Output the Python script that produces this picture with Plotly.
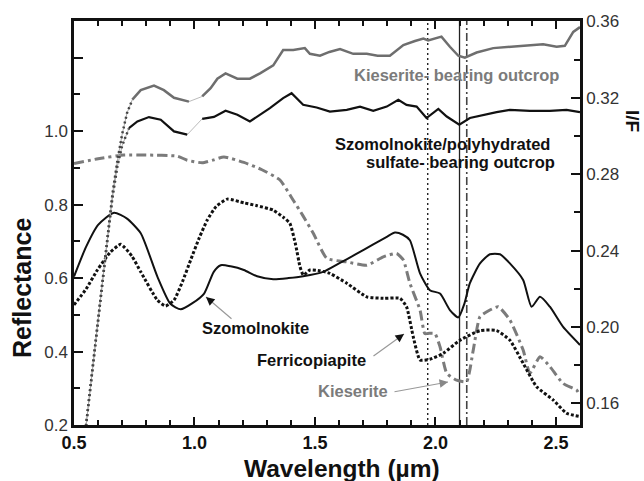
import plotly.graph_objects as go

# ---------------- data ----------------
# Laboratory spectra (left axis: Reflectance)
wl_szomolnokite = [0.50, 0.55, 0.60, 0.666, 0.72, 0.777, 0.846, 0.90, 0.943, 0.99, 1.04, 1.08, 1.109, 1.15,
                   1.205, 1.26, 1.327, 1.39, 1.451, 1.534, 1.60, 1.67, 1.742, 1.80, 1.832, 1.865, 1.894,
                   1.936, 1.977, 2.019, 2.06, 2.095, 2.12, 2.143, 2.185, 2.226, 2.268, 2.309, 2.364,
                   2.399, 2.434, 2.475, 2.53, 2.60]
refl_szomolnokite = [0.604, 0.685, 0.745, 0.778, 0.762, 0.722, 0.604, 0.530, 0.515, 0.531, 0.558, 0.617,
                     0.635, 0.632, 0.622, 0.605, 0.597, 0.600, 0.605, 0.617, 0.640, 0.665, 0.692, 0.713,
                     0.724, 0.718, 0.703, 0.613, 0.567, 0.558, 0.513, 0.493, 0.530, 0.586, 0.640, 0.665,
                     0.665, 0.640, 0.595, 0.522, 0.549, 0.522, 0.467, 0.418]

wl_ferricopiapite = [0.50, 0.55, 0.597, 0.65, 0.694, 0.74, 0.777, 0.846, 0.88, 0.915, 0.95, 0.984, 1.02,
                     1.053, 1.09, 1.136, 1.205, 1.26, 1.327, 1.37, 1.396, 1.42, 1.438, 1.452, 1.479, 1.52,
                     1.562, 1.632, 1.715, 1.784, 1.853, 1.88, 1.908, 1.936, 1.977, 2.032, 2.102, 2.185,
                     2.254, 2.309, 2.364, 2.42, 2.489, 2.544, 2.60]
refl_ferricopiapite = [0.527, 0.570, 0.622, 0.670, 0.692, 0.660, 0.617, 0.540, 0.524, 0.540, 0.590, 0.649,
                       0.710, 0.758, 0.795, 0.815, 0.805, 0.797, 0.785, 0.765, 0.749, 0.690, 0.631, 0.608,
                       0.622, 0.620, 0.613, 0.586, 0.549, 0.545, 0.545, 0.522, 0.440, 0.377, 0.379, 0.395,
                       0.431, 0.457, 0.457, 0.431, 0.368, 0.304, 0.268, 0.232, 0.223]

wl_kieserite = [0.50, 0.60, 0.707, 0.80, 0.929, 0.97, 1.032, 1.08, 1.122, 1.205, 1.28, 1.355, 1.41, 1.45,
                1.493, 1.549, 1.632, 1.715, 1.784, 1.839, 1.867, 1.894, 1.936, 1.956, 1.975, 1.998, 2.019,
                2.047, 2.088, 2.129, 2.157, 2.185, 2.226, 2.261, 2.309, 2.364, 2.392, 2.434, 2.475, 2.53,
                2.586, 2.60]
refl_kieserite = [0.912, 0.925, 0.935, 0.935, 0.932, 0.921, 0.914, 0.922, 0.930, 0.915, 0.895, 0.867, 0.812,
                  0.770, 0.722, 0.654, 0.644, 0.635, 0.658, 0.667, 0.649, 0.586, 0.513, 0.449, 0.450, 0.449,
                  0.413, 0.341, 0.322, 0.318, 0.404, 0.495, 0.513, 0.522, 0.486, 0.404, 0.341, 0.386, 0.359,
                  0.313, 0.295, 0.280]

# CRISM outcrop spectra (right axis: I/F)
wl_kies_out_vis = [0.545, 0.56, 0.58, 0.60, 0.62, 0.64, 0.66, 0.68, 0.70, 0.72, 0.742]
if_kies_out_vis = [0.143, 0.160, 0.182, 0.203, 0.225, 0.247, 0.270, 0.287, 0.301, 0.312, 0.319]
wl_kies_out_a = [0.742, 0.777, 0.832, 0.873, 0.915, 0.977]
if_kies_out_a = [0.319, 0.324, 0.3264, 0.324, 0.320, 0.318]
wl_kies_out_b = [1.032, 1.067, 1.095, 1.129, 1.178, 1.23, 1.272, 1.327, 1.368, 1.41, 1.458, 1.479, 1.521,
                 1.56, 1.604, 1.659, 1.715, 1.76, 1.811, 1.867, 1.915, 1.95, 1.97, 2.025, 2.06, 2.095,
                 2.122, 2.171, 2.24, 2.309, 2.378, 2.447, 2.503, 2.537, 2.572, 2.60]
if_kies_out_b = [0.3207, 0.325, 0.330, 0.3328, 0.330, 0.330, 0.3328, 0.337, 0.345, 0.345, 0.346, 0.343,
                 0.342, 0.344, 0.3455, 0.343, 0.343, 0.342, 0.342, 0.3476, 0.3497, 0.351, 0.350, 0.352,
                 0.3467, 0.342, 0.341, 0.3437, 0.346, 0.3467, 0.3472, 0.348, 0.3467, 0.3472, 0.3545, 0.357]

wl_szo_out_vis = [0.545, 0.56, 0.58, 0.60, 0.62, 0.64, 0.66, 0.68, 0.70, 0.728]
if_szo_out_vis = [0.143, 0.160, 0.182, 0.203, 0.225, 0.247, 0.268, 0.284, 0.295, 0.304]
wl_szo_out_a = [0.728, 0.763, 0.811, 0.86, 0.915, 0.97]
if_szo_out_a = [0.3041, 0.3076, 0.3099, 0.3085, 0.3024, 0.3007]
wl_szo_out_b = [1.032, 1.081, 1.129, 1.178, 1.23, 1.272, 1.313, 1.368, 1.403, 1.451, 1.507, 1.562, 1.632,
                1.687, 1.742, 1.798, 1.846, 1.88, 1.922, 1.963, 2.012, 2.047, 2.099, 2.143, 2.199, 2.254,
                2.309, 2.392, 2.475, 2.544, 2.60]
if_szo_out_b = [0.309, 0.310, 0.3132, 0.3111, 0.3076, 0.3111, 0.3146, 0.3198, 0.3224, 0.3163, 0.3149,
                0.3128, 0.3137, 0.3154, 0.3132, 0.3154, 0.3189, 0.3163, 0.3154, 0.3094, 0.3142, 0.3102,
                0.3059, 0.3094, 0.3111, 0.3125, 0.3137, 0.3132, 0.3132, 0.3137, 0.3125]

band_positions = [1.968, 2.10, 2.13]

x_ticks = [0.5, 1.0, 1.5, 2.0, 2.5]
x_ticktext = ["0.5", "1.0", "1.5", "2.0", "2.5"]
y_ticks = [0.2, 0.4, 0.6, 0.8, 1.0, 1.2]
y_ticktext = ["0.2", "0.4", "0.6", "0.8", "1.0", ""]
y2_ticks = [0.16, 0.20, 0.24, 0.28, 0.32, 0.36]
y2_ticktext = ["0.16", "0.20", "0.24", "0.28", "0.32", "0.36"]

# ---------------- styling / layout ----------------
W, H = 644, 481
L, R, T, B = 74, 64, 21, 56
PW = W - L - R
PH = H - T - B
FONT = "Arial, 'Liberation Sans', sans-serif"
GRAY = "#7b7b7b"
LBL = 16.5


def px(xp):
    return (xp - L) / PW


def py(yp):
    return (H - B - yp) / PH


fig = go.Figure()

# lab spectra
fig.add_trace(go.Scatter(x=wl_kieserite, y=refl_kieserite, mode="lines",
                         line=dict(color=GRAY, width=3, dash="10px,4px,3px,4px", shape="spline", smoothing=0.5)))
fig.add_trace(go.Scatter(x=wl_ferricopiapite, y=refl_ferricopiapite, mode="lines",
                         line=dict(color="#111", width=3, dash="3px,2px", shape="spline", smoothing=0.5)))
fig.add_trace(go.Scatter(x=wl_szomolnokite, y=refl_szomolnokite, mode="lines",
                         line=dict(color="#111", width=2, shape="spline", smoothing=0.6)))

# outcrop spectra on right axis
for wv, iv in [(wl_kies_out_vis, if_kies_out_vis), (wl_szo_out_vis, if_szo_out_vis)]:
    fig.add_trace(go.Scatter(x=wv, y=iv, yaxis="y2", mode="lines",
                             line=dict(color="#aaa", width=1)))
    fig.add_trace(go.Scatter(x=wv, y=iv, yaxis="y2", mode="lines",
                             line=dict(color="#444", width=2.5, dash="2px,3px")))
# thin connectors across the gap
fig.add_trace(go.Scatter(x=[wl_kies_out_a[-1], wl_kies_out_b[0]], y=[if_kies_out_a[-1], if_kies_out_b[0]],
                         yaxis="y2", mode="lines", line=dict(color="#bbb", width=1)))
fig.add_trace(go.Scatter(x=[wl_szo_out_a[-1], wl_szo_out_b[0]], y=[if_szo_out_a[-1], if_szo_out_b[0]],
                         yaxis="y2", mode="lines", line=dict(color="#bbb", width=1)))
for wv, iv in [(wl_kies_out_a, if_kies_out_a), (wl_kies_out_b, if_kies_out_b)]:
    fig.add_trace(go.Scatter(x=wv, y=iv, yaxis="y2", mode="lines",
                             line=dict(color="#6e6e6e", width=2.5)))
for wv, iv in [(wl_szo_out_a, if_szo_out_a), (wl_szo_out_b, if_szo_out_b)]:
    fig.add_trace(go.Scatter(x=wv, y=iv, yaxis="y2", mode="lines",
                             line=dict(color="#111", width=2.2)))

# band position lines
band_styles = [dict(color="#222", width=1.4, dash="2px,3px"),
               dict(color="#222", width=1.3),
               dict(color="#444", width=1.6, dash="8px,3px,2px,3px")]
for bx, st in zip(band_positions, band_styles):
    fig.add_shape(type="line", xref="x", yref="paper", x0=bx, x1=bx, y0=0, y1=1,
                  line=st, layer="below")

tick_common = dict(ticks="inside", showline=True, linecolor="#111", linewidth=2.5,
                   tickcolor="#111", tickwidth=2, showgrid=False, zeroline=False)

fig.update_layout(
    width=W, height=H, margin=dict(l=L, r=R, t=T, b=B),
    paper_bgcolor="white", plot_bgcolor="white", showlegend=False,
    font=dict(family=FONT, color="#111"),
    xaxis=dict(range=[0.5, 2.6], tickmode="array", tickvals=x_ticks,
               ticktext=x_ticktext, ticklen=8,
               tickfont=dict(size=18, weight="bold", color="#111"),
               minor=dict(tickmode="linear", tick0=0.5, dtick=0.1, ticks="inside", ticklen=5,
                          tickwidth=2, tickcolor="#111"),
               **tick_common),
    xaxis2=dict(range=[0.5, 2.6], overlaying="x", side="top", anchor="y",
                tickmode="array", tickvals=x_ticks, showticklabels=False, ticklen=8,
                minor=dict(tickmode="linear", tick0=0.5, dtick=0.1, ticks="inside", ticklen=5,
                           tickwidth=2, tickcolor="#111"),
                **tick_common),
    yaxis=dict(range=[0.2, 1.3], tickmode="array", tickvals=y_ticks, ticktext=y_ticktext,
               ticklen=9, tickfont=dict(size=17, color="#333"),
               minor=dict(tickmode="linear", tick0=0.2, dtick=0.1, ticks="inside", ticklen=6,
                          tickwidth=2, tickcolor="#111"),
               **tick_common),
    yaxis2=dict(range=[0.1487, 0.3602], overlaying="y", side="right", anchor="x",
                tickmode="array", tickvals=y2_ticks, ticktext=y2_ticktext,
                ticklen=9, tickfont=dict(size=17, color="#333"),
                minor=dict(tickmode="linear", tick0=0.16, dtick=0.02, ticks="inside", ticklen=6,
                           tickwidth=2, tickcolor="#111"),
                **tick_common),
)

# dummy trace to activate xaxis2
fig.add_trace(go.Scatter(x=[None], y=[None], xaxis="x2", showlegend=False))

ann = []
# axis titles
ann.append(dict(text="<b>Reflectance</b>", x=px(22), y=py(288), textangle=-90,
                font=dict(size=25, color="#111")))
ann.append(dict(text="<b>Wavelength (µm)</b>", x=px(342), y=py(468),
                font=dict(size=24.5, color="#111")))
ann.append(dict(text="<b>I/F</b>", x=px(633), y=py(121), textangle=90,
                font=dict(size=19, color="#111")))
# curve labels
ann.append(dict(text="<b>Kieserite- bearing outcrop</b>", x=px(456), y=py(75),
                font=dict(size=LBL, color=GRAY)))
ann.append(dict(text="<b>Szomolnokite/polyhydrated</b>", x=px(442), y=py(144),
                font=dict(size=LBL, color="#111")))
ann.append(dict(text="<b>sulfate- bearing outcrop</b>", x=px(460), y=py(162),
                font=dict(size=LBL, color="#111")))
ann.append(dict(text="<b>Szomolnokite</b>", x=px(255), y=py(328),
                font=dict(size=LBL, color="#111")))
ann.append(dict(text="<b>Ferricopiapite</b>", x=px(311), y=py(360),
                font=dict(size=LBL, color="#111")))
ann.append(dict(text="<b>Kieserite</b>", x=px(353), y=py(391),
                font=dict(size=LBL, color=GRAY)))
for a in ann:
    a.update(xref="paper", yref="paper", showarrow=False, xanchor="center", yanchor="middle",
             font=dict(family=FONT, **a["font"]))

# arrows: (head_x, head_y, tail_x, tail_y, shaft color, head color)
arrows = [(206, 297, 233, 320, "#999", "#111"),
          (404, 334, 372, 357, "#999", "#111"),
          (448, 382, 393, 392, "#999", "#888")]
for hx, hy, tx, ty, sc, hc in arrows:
    ann.append(dict(x=px(hx), y=py(hy), xref="paper", yref="paper", ax=tx - hx, ay=ty - hy,
                    showarrow=True, arrowhead=0, arrowwidth=1.2, arrowcolor=sc, text=""))
    dx, dy = tx - hx, ty - hy
    n = (dx * dx + dy * dy) ** 0.5
    ann.append(dict(x=px(hx), y=py(hy), xref="paper", yref="paper", ax=dx / n * 9, ay=dy / n * 9,
                    showarrow=True, arrowhead=2, arrowsize=1.3, arrowwidth=1.3, arrowcolor=hc,
                    text=""))

fig.update_layout(annotations=ann)
fig.write_html("out.html")
